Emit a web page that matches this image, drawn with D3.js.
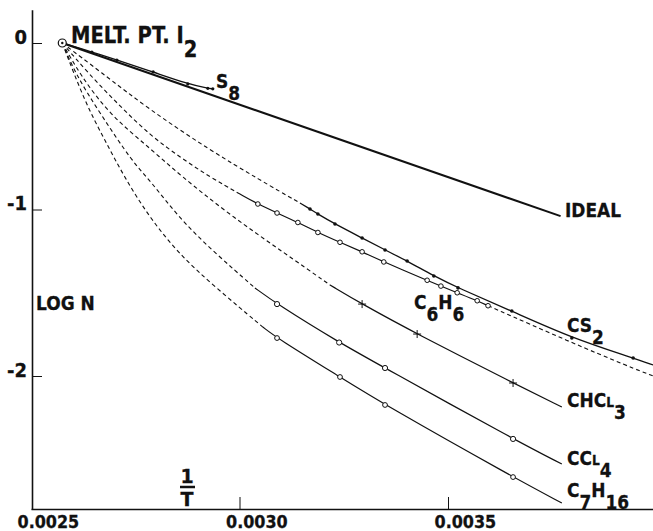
<!DOCTYPE html>
<html>
<head>
<meta charset="utf-8">
<script src="https://cdn.jsdelivr.net/npm/d3@7"></script>
<style>
  body { margin: 0; background: #fff; }
  svg text { font-family: "DejaVu Sans", "Liberation Sans", sans-serif; font-weight: bold; fill: #111; stroke: #111; stroke-width: 0.3; }
</style>
</head>
<body>
<svg id="chart"></svg>
<script>
// punt leleh iodium, semua kurva berangkat dari sini
var meltPt = [0.002575, 0];

// garis ideal
var idealEnd = [0.003770, -1.04];

// S8: titik data
var s8Pts = [[0.002646, -0.054], [0.002706, -0.102], [0.002793, -0.174], [0.002876, -0.246], [0.002924, -0.272], [0.002936, -0.275]];

// CS2
var cs2Dash = [[0.002665, -0.17], [0.002785, -0.402], [0.002929, -0.643], [0.003049, -0.823], [0.003145, -0.961]];
var cs2Pts = [[0.003169, -0.997], [0.003188, -1.027], [0.003229, -1.087], [0.003294, -1.171], [0.003349, -1.243],
  [0.003402, -1.309], [0.003466, -1.399], [0.003524, -1.471], [0.003653, -1.610], [0.003797, -1.772], [0.003944, -1.892]];
var cs2End = [0.003992, -1.934];

// C6H6
var c6h6Dash = [[0.002641, -0.192], [0.002713, -0.378], [0.002785, -0.553], [0.002857, -0.685], [0.002929, -0.805], [0.003001, -0.907]];
var c6h6Pts = [[0.003044, -0.967], [0.003090, -1.021], [0.003140, -1.078], [0.003188, -1.138], [0.003241, -1.197], [0.003294, -1.254],
  [0.003346, -1.315], [0.003450, -1.425], [0.003483, -1.460], [0.003522, -1.500], [0.003570, -1.548], [0.003596, -1.578]];
var c6h6Ext = [[0.003793, -1.796], [0.003936, -1.946], [0.003992, -2.0]];

// CHCl3
var chcl3Dash = [[0.002618, -0.192], [0.002689, -0.432], [0.002785, -0.631], [0.002857, -0.793], [0.002977, -1.033], [0.003104, -1.255], [0.003217, -1.453]];
var chcl3Pts = [[0.003294, -1.568], [0.003426, -1.748], [0.003656, -2.042]];
var chcl3End = [0.003773, -2.186];

// CCl4
var ccl4Dash = [[0.002608, -0.192], [0.002665, -0.420], [0.002745, -0.721], [0.002785, -0.823], [0.002857, -1.057], [0.002941, -1.261], [0.003037, -1.471]];
var ccl4Pts = [[0.003090, -1.568], [0.003239, -1.799], [0.003349, -1.952], [0.003656, -2.378]];
var ccl4End = [0.003773, -2.529];

// C7H16
var c7h16Dash = [[0.002629, -0.354], [0.002677, -0.583], [0.002725, -0.811], [0.002785, -1.051], [0.002857, -1.273], [0.002941, -1.465], [0.003056, -1.706]];
var c7h16Pts = [[0.003090, -1.772], [0.003241, -2.006], [0.003349, -2.174], [0.003656, -2.607]];
var c7h16End = [0.003773, -2.763];

var xTicks = [0.0025, 0.0030, 0.0035];
var yTicks = [0, -1, -2];

var W = 653, H = 531;
var svg = d3.select('#chart').attr('width', W).attr('height', H);

var x = d3.scaleLinear().domain([0.0025, 0.0040]).range([31, 656.5]);
var y = d3.scaleLinear().domain([0.2, -2.8]).range([9.7, 509.2]);

// sumbu, tick mengarah ke dalam
var yAxis = d3.axisLeft(y).tickValues(yTicks).tickSizeInner(-10).tickSizeOuter(0)
  .tickFormat(function(d) { return d === 0 ? '0' : '-' + Math.abs(d); });
var xAxis = d3.axisBottom(x).tickValues(xTicks).tickSizeInner(-12).tickSizeOuter(0)
  .tickFormat(d3.format('.4f'));

var gy = svg.append('g').attr('transform', 'translate(32,0)').call(yAxis);
gy.select('.domain').attr('stroke', '#111').attr('stroke-width', 1.6);
gy.selectAll('.tick line').attr('stroke', '#111').attr('stroke-width', 1);
gy.selectAll('.tick text').attr('x', null).attr('dy', null).attr('text-anchor', 'end')
  .attr('transform', 'translate(-5,0) scale(0.9,1)')
  .attr('font-size', 20).style('font-family', '"DejaVu Sans",sans-serif').style('font-weight', 'bold');

var gx = svg.append('g').attr('transform', 'translate(0,509)').call(xAxis);
gx.select('.domain').attr('stroke', '#111').attr('stroke-width', 1.6);
gx.selectAll('.tick line').attr('stroke', '#111').attr('stroke-width', 1)
  .attr('display', function(d) { return d === 0.0025 ? 'none' : null; });
gx.selectAll('.tick text').attr('y', null).attr('dy', null).attr('text-anchor', 'start')
  .attr('transform', 'translate(-14,19) scale(0.89,1)')
  .attr('font-size', 18).style('font-family', '"DejaVu Sans",sans-serif').style('font-weight', 'bold');

var line = d3.line().x(function(d) { return x(d[0]); }).y(function(d) { return y(d[1]); }).curve(d3.curveBasis);
var g = svg.append('g');

function solid(pts, w) {
  g.append('path').attr('d', line(pts)).attr('fill', 'none').attr('stroke', '#111').attr('stroke-width', w);
}
function dashed(pts) {
  g.append('path').attr('d', line(pts)).attr('fill', 'none').attr('stroke', '#111').attr('stroke-width', 1.1).attr('stroke-dasharray', '4,3');
}
function dots(pts, r) {
  g.selectAll(null).data(pts).enter().append('circle')
    .attr('cx', function(d) { return x(d[0]); }).attr('cy', function(d) { return y(d[1]); })
    .attr('r', r).attr('fill', '#111');
}
function rings(pts, r) {
  g.selectAll(null).data(pts).enter().append('circle')
    .attr('cx', function(d) { return x(d[0]); }).attr('cy', function(d) { return y(d[1]); })
    .attr('r', r).attr('fill', '#fff').attr('stroke', '#111').attr('stroke-width', 1);
}
function pluses(pts, s) {
  g.selectAll(null).data(pts).enter().append('path')
    .attr('d', function(d) { var cx = x(d[0]), cy = y(d[1]); return 'M' + (cx - s) + ',' + cy + 'H' + (cx + s) + 'M' + cx + ',' + (cy - s) + 'V' + (cy + s); })
    .attr('stroke', '#111').attr('stroke-width', 1);
}

// ideal dan S8
solid([meltPt, idealEnd], 2);
solid([meltPt].concat(s8Pts), 1.4);
dots(s8Pts, 1.6);

// kurva pelarut
dashed([meltPt].concat(cs2Dash));
solid([cs2Dash[cs2Dash.length - 1]].concat(cs2Pts, [cs2End]), 1.3);
dots(cs2Pts, 1.8);

dashed([meltPt].concat(c6h6Dash));
solid([c6h6Dash[c6h6Dash.length - 1]].concat(c6h6Pts), 1.2);
dashed([c6h6Pts[c6h6Pts.length - 1]].concat(c6h6Ext));
rings(c6h6Pts, 2.3);

dashed([meltPt].concat(chcl3Dash));
solid([chcl3Dash[chcl3Dash.length - 1]].concat(chcl3Pts, [chcl3End]), 1.2);
pluses(chcl3Pts, 4);

dashed([meltPt].concat(ccl4Dash));
solid([ccl4Dash[ccl4Dash.length - 1]].concat(ccl4Pts, [ccl4End]), 1.2);
rings(ccl4Pts, 2.6);

dashed([meltPt].concat(c7h16Dash));
solid([c7h16Dash[c7h16Dash.length - 1]].concat(c7h16Pts, [c7h16End]), 1.2);
rings(c7h16Pts, 2.4);

// titik leleh
svg.append('circle').attr('cx', x(meltPt[0])).attr('cy', y(meltPt[1])).attr('r', 4).attr('fill', '#fff').attr('stroke', '#111').attr('stroke-width', 1.2);
svg.append('circle').attr('cx', x(meltPt[0])).attr('cy', y(meltPt[1])).attr('r', 1.2).attr('fill', '#111');

// label dengan subskrip, dipadatkan ke samping
function label(px, py, parts, size, sx) {
  var t = svg.append('text').attr('transform', 'translate(' + px + ',' + py + ') scale(' + (sx || 0.85) + ',1)').attr('font-size', size);
  parts.forEach(function(p) {
    var s = t.append('tspan').text(p[0]);
    if (p[1] === 'sub') s.attr('dy', size * 0.6);
    else if (p[1] === 'up') s.attr('dy', -size * 0.6);
    else if (p[1] === 'small') s.attr('font-size', size * 0.72);
  });
}

label(71, 43, [['MELT. PT. I'], ['2', 'sub']], 23);
label(216, 88, [['S'], ['8', 'sub']], 20);
label(565, 217, [['IDEAL']], 20);
label(414, 309, [['C'], ['6', 'sub'], ['H', 'up'], ['6', 'sub']], 20);
label(567, 332, [['CS'], ['2', 'sub']], 20);
label(567, 407, [['CHC'], ['L', 'small'], ['3', 'sub']], 20);
label(567, 465, [['CC'], ['L', 'small'], ['4', 'sub']], 20);
label(567, 497, [['C'], ['7', 'sub'], ['H', 'up'], ['16', 'sub']], 20);
label(36, 310, [['LOG N']], 20);

// 1/T
svg.append('text').attr('x', 187).attr('y', 483).attr('text-anchor', 'middle').attr('font-size', 19).text('1');
svg.append('line').attr('x1', 180).attr('x2', 195).attr('y1', 487).attr('y2', 487).attr('stroke', '#111').attr('stroke-width', 2.5);
svg.append('text').attr('x', 187).attr('y', 506).attr('text-anchor', 'middle').attr('font-size', 19).text('T');
</script>
</body>
</html>
